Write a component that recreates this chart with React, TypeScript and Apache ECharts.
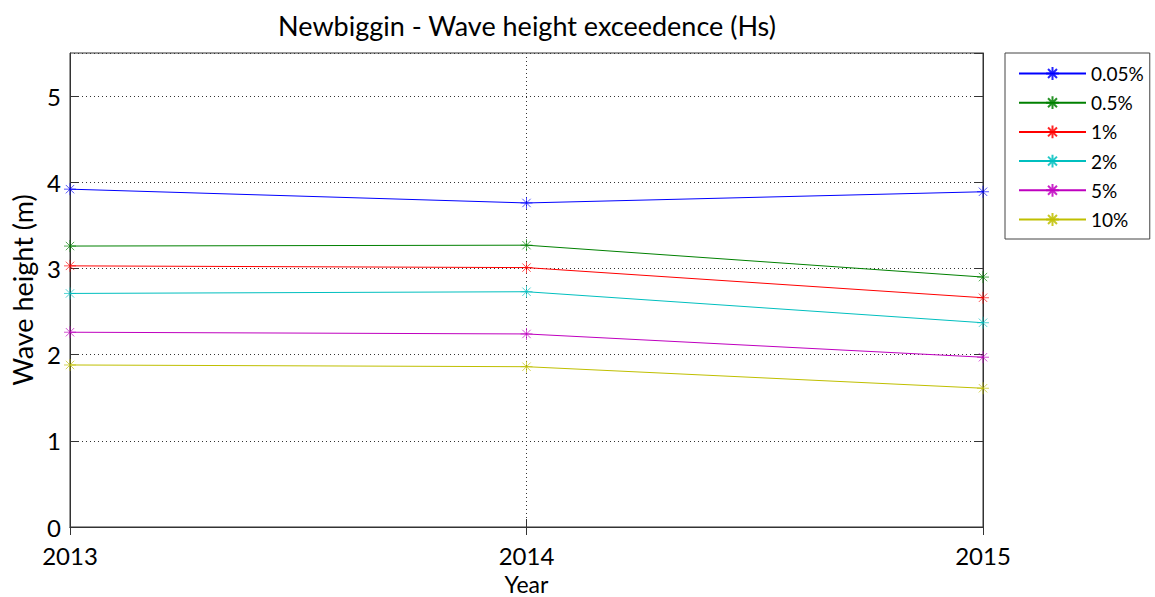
import React, { useEffect, useRef } from "react";
import * as echarts from "echarts";

const years = [2013, 2014, 2015];
const seriesNames = ["0.05%", "0.5%", "1%", "2%", "5%", "10%"];
const v005 = [3.92, 3.76, 3.89];
const v05 = [3.26, 3.27, 2.9];
const v1 = [3.03, 3.01, 2.66];
const v2 = [2.71, 2.73, 2.37];
const v5 = [2.26, 2.24, 1.97];
const v10 = [1.88, 1.86, 1.61];
const seriesValues = [v005, v05, v1, v2, v5, v10];
const colors = ["#0000ff", "#008000", "#ff0000", "#00bfbf", "#bf00bf", "#bfbf00"];

const asterisk = "path://M0 5L10 5M5 0L5 10M1.5 1.5L8.5 8.5M8.5 1.5L1.5 8.5";
const FONT = "Lato";

export default function App() {
  const ref = useRef<HTMLDivElement>(null);
  useEffect(() => {
    document.body.style.margin = "0";
    const chart = echarts.init(ref.current!, null, { renderer: "svg" });
    const axisLine = { show: true, lineStyle: { color: "#333", width: 1 } };
    chart.setOption({
      animation: false,
      backgroundColor: "#fff",
      title: {
        text: "Newbiggin - Wave height exceedence (Hs)",
        left: 522,
        top: 7,
        textAlign: "center",
        textStyle: { fontFamily: FONT, fontSize: 27, fontWeight: "normal", color: "#000" },
      },
      legend: {
        orient: "vertical",
        left: 1005,
        top: 53,
        padding: [11, 6, 10, 13],
        itemWidth: 67,
        itemHeight: 16,
        itemGap: 10.2,
        borderColor: "#444",
        borderWidth: 1,
        backgroundColor: "#fff",
        textStyle: { fontFamily: FONT, fontSize: 19, color: "#000" },
        data: seriesNames,
      },
      grid: {
        left: 70,
        right: 172,
        top: 53,
        bottom: 70,
        show: true,
        borderColor: "#333",
        borderWidth: 1,
        outerBoundsMode: "none",
        containLabel: false,
      },
      xAxis: [
        {
          type: "value",
          min: 2013,
          max: 2015,
          interval: 1,
          name: "Year",
          nameLocation: "middle",
          nameGap: 45,
          nameTextStyle: { fontFamily: FONT, fontSize: 23, color: "#000", lineHeight: 23 },
          axisLine,
          axisTick: { show: true, inside: true, length: 8, lineStyle: { color: "#333" } },
          axisLabel: {
            fontFamily: FONT,
            fontSize: 24,
            lineHeight: 24,
            color: "#000",
            margin: 16,
            formatter: (v: number) => String(v),
          },
          splitLine: { show: true, lineStyle: { type: [1, 3], color: "#333", width: 1 } },
        },
        {
          type: "value",
          min: 2013,
          max: 2015,
          interval: 1,
          position: "top",
          axisLine,
          axisTick: { show: true, inside: true, length: 8, lineStyle: { color: "#333" } },
          axisLabel: { show: false },
          splitLine: { show: false },
        },
      ],
      yAxis: [
        {
          type: "value",
          min: 0,
          max: 5.5,
          interval: 1,
          name: "Wave height (m)",
          nameLocation: "middle",
          nameGap: 33,
          nameTextStyle: { fontFamily: FONT, fontSize: 27, color: "#000" },
          axisLine,
          axisTick: { show: true, inside: true, length: 8, lineStyle: { color: "#333" } },
          axisLabel: {
            fontFamily: FONT,
            fontSize: 24,
            lineHeight: 22,
            color: "#000",
            margin: 9,
            showMaxLabel: false,
            formatter: (v: number) => (v > 5 ? "" : String(v)),
          },
          splitLine: { show: true, lineStyle: { type: [1, 3], color: "#333", width: 1 } },
        },
        {
          type: "value",
          min: 0,
          max: 5.5,
          interval: 1,
          position: "right",
          axisLine,
          axisTick: { show: true, inside: true, length: 8, lineStyle: { color: "#333" } },
          axisLabel: { show: false },
          splitLine: { show: false },
        },
      ],
      series: seriesNames.map((name, i) => ({
        name,
        type: "line",
        xAxisIndex: 0,
        yAxisIndex: 0,
        data: years.map((y, j) => [y, seriesValues[i][j]]),
        color: colors[i],
        symbol: asterisk,
        symbolSize: 12,
        showAllSymbol: true,
        lineStyle: { color: colors[i], width: 1 },
        itemStyle: { color: colors[i], borderColor: colors[i], borderWidth: 0.8, opacity: 0.85 },
        z: 3,
      })),
    });
    return () => chart.dispose();
  }, []);
  return <div ref={ref} style={{ width: 1155, height: 597 }} />;
}
